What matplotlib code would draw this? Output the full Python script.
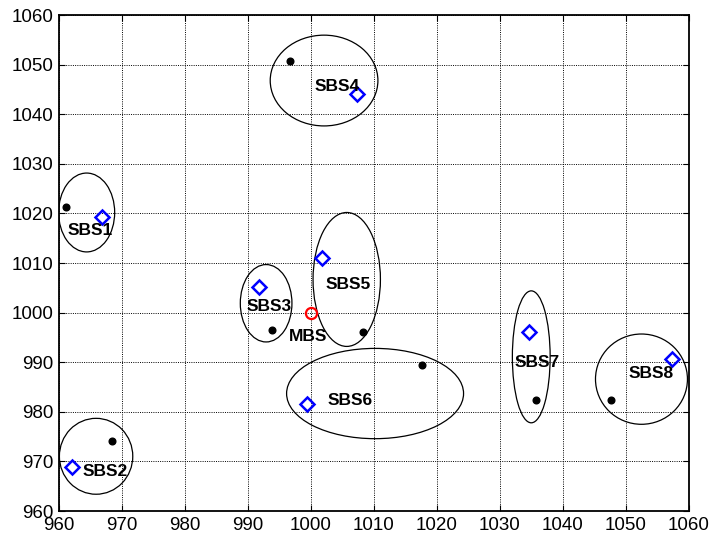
import matplotlib
matplotlib.use('Agg')
import matplotlib.pyplot as plt
from matplotlib.patches import Ellipse

plt.rcParams['font.family'] = ['Liberation Sans', 'DejaVu Sans']

# small base stations (blue diamonds)
sbs_names = ['SBS1', 'SBS2', 'SBS3', 'SBS4', 'SBS5', 'SBS6', 'SBS7', 'SBS8']
sbs_x = [966.8, 962.0, 991.7, 1007.3, 1001.7, 999.4, 1034.6, 1057.4]
sbs_y = [1019.3, 968.8, 1005.2, 1044.1, 1011.1, 981.6, 996.2, 990.6]

# user points (black dots)
user_x = [961.1, 968.4, 993.9, 996.7, 1008.3, 1017.7, 1035.7, 1047.7]
user_y = [1021.3, 974.1, 996.6, 1050.7, 996.1, 989.4, 982.3, 982.3]

# coverage ellipses: centre, width, height
ell_x = [964.4, 965.9, 992.9, 1002.1, 1005.7, 1010.2, 1035.0, 1052.5]
ell_y = [1020.2, 971.05, 1001.9, 1046.8, 1006.7, 983.7, 991.1, 986.6]
ell_w = [8.9, 11.65, 8.2, 17.1, 10.7, 28.1, 6.0, 14.6]
ell_h = [15.9, 15.3, 15.6, 18.3, 27.0, 18.2, 26.6, 18.2]

# label positions
lab_x = [964.9, 967.4, 993.4, 1004.1, 1005.9, 1006.3, 1036.0, 1054.1]
lab_y = [1016.5, 967.9, 1001.2, 1045.5, 1005.6, 982.2, 990.0, 987.8]

mbs_x, mbs_y = 1000, 1000
mbs_lab = (999.6, 995.2)

fig = plt.figure(figsize=(7.1, 5.38), dpi=100)
ax = fig.add_axes([0.083, 0.050, 0.887, 0.922])

for cx, cy, w, h in zip(ell_x, ell_y, ell_w, ell_h):
    ax.add_patch(Ellipse((cx, cy), w, h, fill=False, edgecolor='black', lw=0.9, zorder=3))

ax.plot(user_x, user_y, 'o', color='black', ms=4.8, zorder=4)
ax.plot(sbs_x, sbs_y, 'D', mfc='none', mec='blue', mew=1.8, ms=7, zorder=5)
ax.plot([mbs_x], [mbs_y], 'o', mfc='none', mec='red', mew=1.6, ms=8, zorder=5)

for name, lx, ly in zip(sbs_names, lab_x, lab_y):
    ax.text(lx, ly, name, ha='center', va='center', fontsize=12.5, fontweight='bold', zorder=6)
ax.text(mbs_lab[0], mbs_lab[1], 'MBS', ha='center', va='center', fontsize=12.5, fontweight='bold', zorder=6)

ax.set_xlim(960, 1060)
ax.set_ylim(960, 1060)
ax.set_xticks(range(960, 1061, 10))
ax.set_yticks(range(960, 1061, 10))
ax.grid(True, color='black', linestyle=(0, (1, 1.3)), linewidth=0.7)
ax.tick_params(direction='in', top=True, right=True, labelsize=13.5, length=4, pad=4)
for s in ax.spines.values():
    s.set_linewidth(1.3)

fig.savefig('out.png', dpi=100)
